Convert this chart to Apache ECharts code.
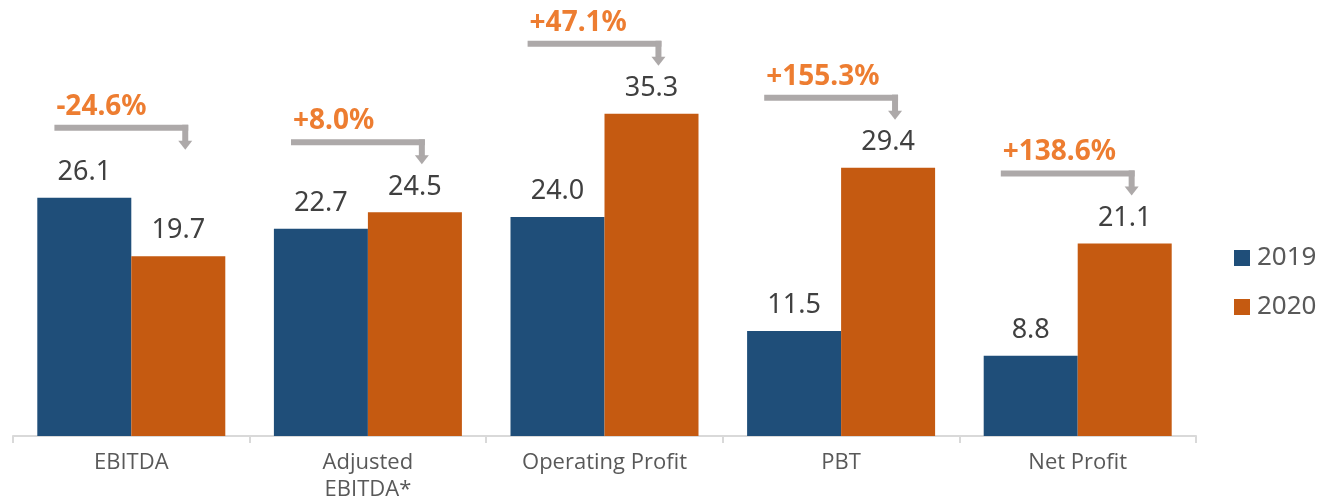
<!DOCTYPE html>
<html>
<head>
<meta charset="utf-8">
<script src="https://cdn.jsdelivr.net/npm/echarts@6/dist/echarts.min.js"></script>
<style>
  html,body{margin:0;padding:0;background:#fff;}
  .main{width:1319px;height:504px;}
</style>
</head>
<body>
<div class="main" id="main"></div>
<script>
var categories = ['EBITDA', 'Adjusted\nEBITDA*', 'Operating Profit', 'PBT', 'Net Profit'];
var val2019 = [26.1, 22.7, 24.0, 11.5, 8.8];
var val2020 = [19.7, 24.5, 35.3, 29.4, 21.1];
var changes = ['-24.6%', '+8.0%', '+47.1%', '+155.3%', '+138.6%'];

var arrowDat = [];
for (var i = 0; i < categories.length; i++) {
  arrowDat.push([i, Math.max(val2019[i], val2020[i]), changes[i]]);
}

// bracket arrow above each pair of bars, with the change label
function drawArrow(params, api) {
  var pt = api.coord([api.value(0), api.value(1)]);
  var catW = api.size([1, 0])[0];
  var x0 = pt[0] - catW * 0.325;
  var x1 = pt[0] + catW * 0.228;
  var y = pt[1] - 70;
  var grey = '#ADA9A9';
  return {
    type: 'group',
    children: [
      { type: 'rect', shape: { x: x0, y: y - 3, width: x1 - x0 + 3, height: 6 }, style: { fill: grey } },
      { type: 'rect', shape: { x: x1 - 3, y: y - 3, width: 6, height: 17 }, style: { fill: grey } },
      { type: 'polygon', shape: { points: [[x1 - 7, y + 13], [x1 + 7, y + 13], [x1, y + 22]] }, style: { fill: grey } },
      { type: 'text', style: {
          x: x0 + 2, y: y - 7, text: api.value(2),
          fill: '#ED7D31', font: 'bold 28px "Noto Sans"',
          textAlign: 'left', textVerticalAlign: 'bottom'
        } }
    ]
  };
}

var myChart = echarts.init(document.getElementById('main'));
var labelStyle = {
  show: true,
  position: 'top',
  distance: 12,
  color: '#404040',
  fontSize: 27,
  fontFamily: 'Noto Sans',
  formatter: function (p) { return p.value.toFixed(1); }
};
var option = {
  animation: false,
  textStyle: { fontFamily: 'Noto Sans' },
  grid: { left: 13, right: 123, top: 7, bottom: 68 },
  legend: {
    data: ['2019', '2020'],
    orient: 'vertical',
    left: 1234,
    top: 245,
    padding: 0,
    itemGap: 23,
    itemWidth: 16,
    itemHeight: 16,
    icon: 'rect',
    textStyle: { fontSize: 26, color: '#595959', padding: [0, 0, 0, 2] }
  },
  xAxis: {
    type: 'category',
    data: categories,
    axisLine: { lineStyle: { color: '#D9D9D9', width: 2 } },
    axisTick: { show: true, length: 7, lineStyle: { color: '#D9D9D9', width: 2 } },
    axisLabel: {
      color: '#595959',
      fontSize: 22,
      fontFamily: 'Open Sans',
      lineHeight: 27,
      margin: 13,
      interval: 0
    }
  },
  yAxis: {
    type: 'value',
    min: 0,
    max: 47,
    show: false,
    splitLine: { show: false }
  },
  series: [{
    name: '2019',
    type: 'bar',
    barWidth: 94,
    barGap: '0%',
    itemStyle: { color: '#1F4E79' },
    label: labelStyle,
    data: val2019
  }, {
    name: '2020',
    type: 'bar',
    barWidth: 94,
    barGap: '0%',
    itemStyle: { color: '#C55A11' },
    label: labelStyle,
    data: val2020
  }, {
    name: 'change',
    type: 'custom',
    renderItem: drawArrow,
    clip: false,
    silent: true,
    data: arrowDat,
    z: 5
  }]
};
myChart.setOption(option);
</script>
</body>
</html>
